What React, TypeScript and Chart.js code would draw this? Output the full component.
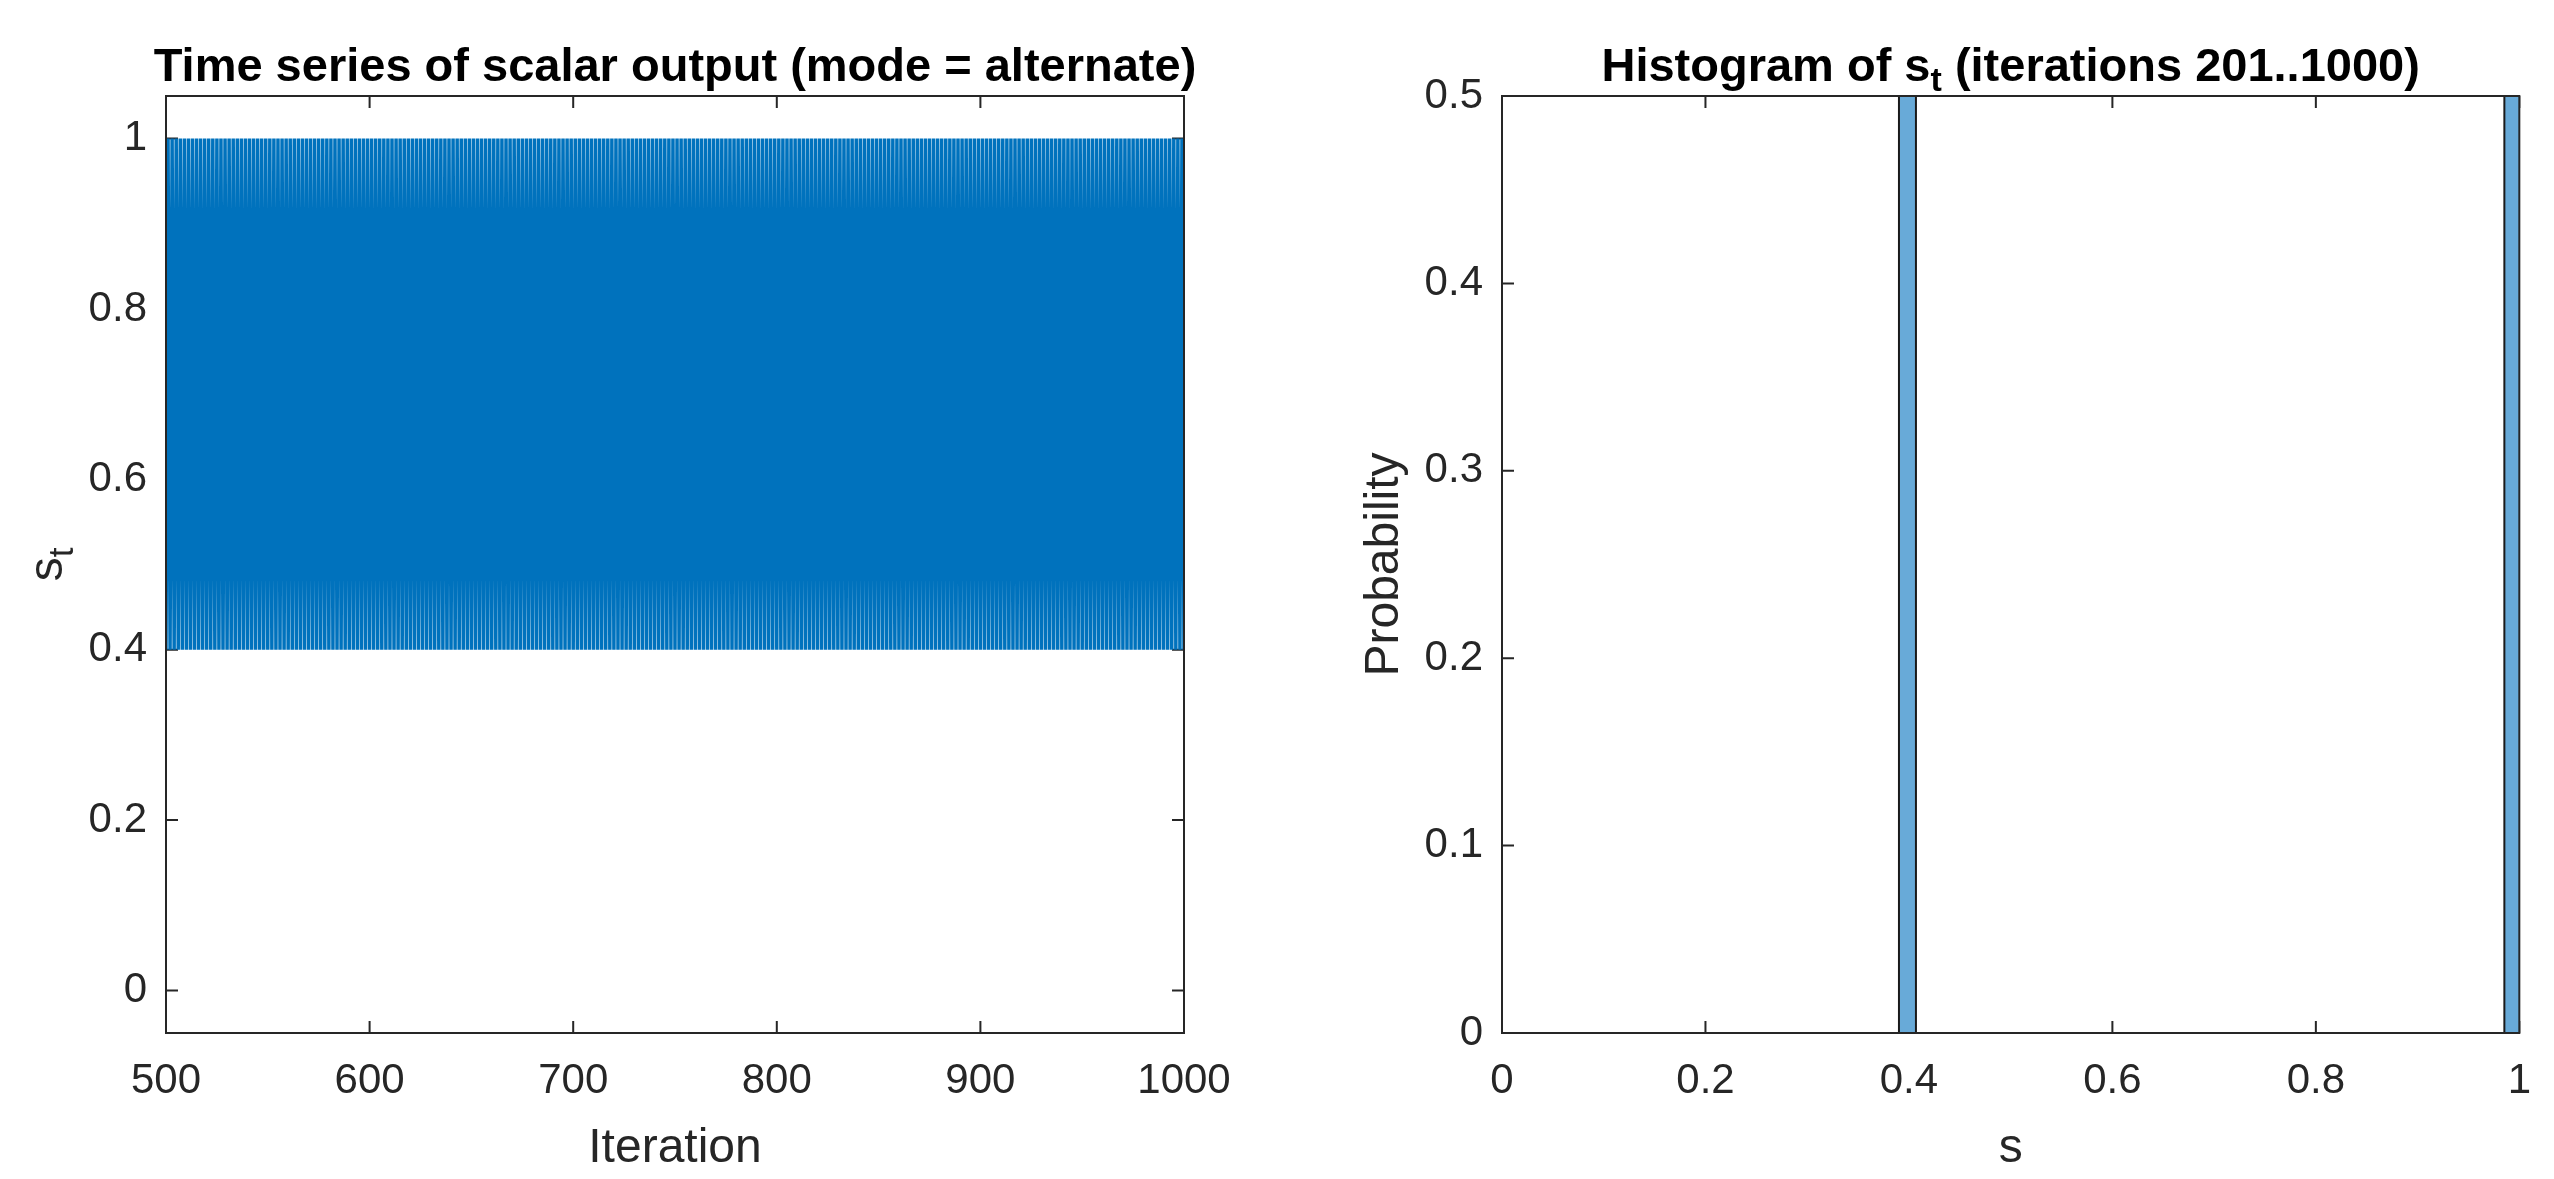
import React, { useEffect, useRef } from 'react';
import { Chart, registerables } from 'chart.js';

Chart.register(...registerables);

const PAGE_W = 2554;
const PAGE_H = 1179;
const FONT = "'Liberation Sans', Arial, Helvetica, sans-serif";

// ---------- Left panel: time series ----------
const iterationStart = 500;
const sValues = [
  0.4, 1, 0.4, 1, 0.4, 1, 0.4, 1, 0.4, 1, 0.4, 1, 0.4, 1, 0.4, 1, 0.4, 1, 0.4, 1,
  0.4, 1, 0.4, 1, 0.4, 1, 0.4, 1, 0.4, 1, 0.4, 1, 0.4, 1, 0.4, 1, 0.4, 1, 0.4, 1,
  0.4, 1, 0.4, 1, 0.4, 1, 0.4, 1, 0.4, 1, 0.4, 1, 0.4, 1, 0.4, 1, 0.4, 1, 0.4, 1,
  0.4, 1, 0.4, 1, 0.4, 1, 0.4, 1, 0.4, 1, 0.4, 1, 0.4, 1, 0.4, 1, 0.4, 1, 0.4, 1,
  0.4, 1, 0.4, 1, 0.4, 1, 0.4, 1, 0.4, 1, 0.4, 1, 0.4, 1, 0.4, 1, 0.4, 1, 0.4, 1,
  0.4, 1, 0.4, 1, 0.4, 1, 0.4, 1, 0.4, 1, 0.4, 1, 0.4, 1, 0.4, 1, 0.4, 1, 0.4, 1,
  0.4, 1, 0.4, 1, 0.4, 1, 0.4, 1, 0.4, 1, 0.4, 1, 0.4, 1, 0.4, 1, 0.4, 1, 0.4, 1,
  0.4, 1, 0.4, 1, 0.4, 1, 0.4, 1, 0.4, 1, 0.4, 1, 0.4, 1, 0.4, 1, 0.4, 1, 0.4, 1,
  0.4, 1, 0.4, 1, 0.4, 1, 0.4, 1, 0.4, 1, 0.4, 1, 0.4, 1, 0.4, 1, 0.4, 1, 0.4, 1,
  0.4, 1, 0.4, 1, 0.4, 1, 0.4, 1, 0.4, 1, 0.4, 1, 0.4, 1, 0.4, 1, 0.4, 1, 0.4, 1,
  0.4, 1, 0.4, 1, 0.4, 1, 0.4, 1, 0.4, 1, 0.4, 1, 0.4, 1, 0.4, 1, 0.4, 1, 0.4, 1,
  0.4, 1, 0.4, 1, 0.4, 1, 0.4, 1, 0.4, 1, 0.4, 1, 0.4, 1, 0.4, 1, 0.4, 1, 0.4, 1,
  0.4, 1, 0.4, 1, 0.4, 1, 0.4, 1, 0.4, 1, 0.4, 1, 0.4, 1, 0.4, 1, 0.4, 1, 0.4, 1,
  0.4, 1, 0.4, 1, 0.4, 1, 0.4, 1, 0.4, 1, 0.4, 1, 0.4, 1, 0.4, 1, 0.4, 1, 0.4, 1,
  0.4, 1, 0.4, 1, 0.4, 1, 0.4, 1, 0.4, 1, 0.4, 1, 0.4, 1, 0.4, 1, 0.4, 1, 0.4, 1,
  0.4, 1, 0.4, 1, 0.4, 1, 0.4, 1, 0.4, 1, 0.4, 1, 0.4, 1, 0.4, 1, 0.4, 1, 0.4, 1,
  0.4, 1, 0.4, 1, 0.4, 1, 0.4, 1, 0.4, 1, 0.4, 1, 0.4, 1, 0.4, 1, 0.4, 1, 0.4, 1,
  0.4, 1, 0.4, 1, 0.4, 1, 0.4, 1, 0.4, 1, 0.4, 1, 0.4, 1, 0.4, 1, 0.4, 1, 0.4, 1,
  0.4, 1, 0.4, 1, 0.4, 1, 0.4, 1, 0.4, 1, 0.4, 1, 0.4, 1, 0.4, 1, 0.4, 1, 0.4, 1,
  0.4, 1, 0.4, 1, 0.4, 1, 0.4, 1, 0.4, 1, 0.4, 1, 0.4, 1, 0.4, 1, 0.4, 1, 0.4, 1,
  0.4, 1, 0.4, 1, 0.4, 1, 0.4, 1, 0.4, 1, 0.4, 1, 0.4, 1, 0.4, 1, 0.4, 1, 0.4, 1,
  0.4, 1, 0.4, 1, 0.4, 1, 0.4, 1, 0.4, 1, 0.4, 1, 0.4, 1, 0.4, 1, 0.4, 1, 0.4, 1,
  0.4, 1, 0.4, 1, 0.4, 1, 0.4, 1, 0.4, 1, 0.4, 1, 0.4, 1, 0.4, 1, 0.4, 1, 0.4, 1,
  0.4, 1, 0.4, 1, 0.4, 1, 0.4, 1, 0.4, 1, 0.4, 1, 0.4, 1, 0.4, 1, 0.4, 1, 0.4, 1,
  0.4, 1, 0.4, 1, 0.4, 1, 0.4, 1, 0.4, 1, 0.4, 1, 0.4, 1, 0.4, 1, 0.4, 1, 0.4, 1,
  0.4,
];
const leftXRange = [500, 1000];
const leftYRange = [-0.05, 1.05];
const leftXTicks = [500, 600, 700, 800, 900, 1000];
const leftYTicks = [0, 0.2, 0.4, 0.6, 0.8, 1];
const leftTitle = [{ text: 'Time series of scalar output (mode = alternate)' }];
const leftXLabel = [{ text: 'Iteration' }];
const leftYLabel = [{ text: 's' }, { text: 't', sub: true }];

// ---------- Right panel: histogram ----------
const histBinLeft = [0.3902, 0.9853];
const histBinRight = [0.4069, 1.002];
const histProb = [0.5, 0.5];
const rightXRange = [0, 1];
const rightYRange = [0, 0.5];
const rightXTicks = [0, 0.2, 0.4, 0.6, 0.8, 1];
const rightYTicks = [0, 0.1, 0.2, 0.3, 0.4, 0.5];
const rightTitle = [
  { text: 'Histogram of s' },
  { text: 't', sub: true },
  { text: ' (iterations 201..1000)' },
];
const rightXLabel = [{ text: 's' }];
const rightYLabel = [{ text: 'Probability' }];

// ---------- styling ----------
const AXIS_COLOR = '#262626';
const LINE_BLUE = '#0072BD';
const HIST_FACE = 'rgb(104,170,216)';
const TICK_FONT = 42;
const LABEL_FONT = 48;
const TITLE_FONT = 47;
const TICK_LEN = 12;

type Seg = { text: string; sub?: boolean };

function drawRich(
  ctx: CanvasRenderingContext2D,
  segs: Seg[],
  x: number,
  y: number,
  size: number,
  weight: string,
  color: string,
  rotate: boolean
) {
  ctx.save();
  ctx.translate(x, y);
  if (rotate) ctx.rotate(-Math.PI / 2);
  ctx.fillStyle = color;
  ctx.textBaseline = 'alphabetic';
  ctx.textAlign = 'left';
  const fontFor = (s: Seg) => `${weight} ${s.sub ? Math.round(size * 0.72) : size}px ${FONT}`;
  const widths = segs.map((s) => {
    ctx.font = fontFor(s);
    return ctx.measureText(s.text).width;
  });
  const total = widths.reduce((a, b) => a + b, 0);
  let cx = -total / 2;
  segs.forEach((s, i) => {
    ctx.font = fontFor(s);
    ctx.fillText(s.text, cx, s.sub ? size * 0.22 : 0);
    cx += widths[i];
  });
  ctx.restore();
}

function makeMatlabPlugin(cfg: { title: Seg[]; xLabel: Seg[]; yLabel: Seg[] }) {
  return {
    id: 'matlabAxes',
    beforeDatasetsDraw(chart: any) {
      const { ctx, chartArea } = chart;
      const { left, right, top, bottom } = chartArea;
      const xs = chart.scales.x;
      const ys = chart.scales.y;
      ctx.save();
      ctx.strokeStyle = AXIS_COLOR;
      ctx.lineWidth = 2;
      ctx.beginPath();
      xs.ticks.forEach((t: any) => {
        const px = xs.getPixelForValue(t.value);
        ctx.moveTo(px, bottom);
        ctx.lineTo(px, bottom - TICK_LEN);
        ctx.moveTo(px, top);
        ctx.lineTo(px, top + TICK_LEN);
      });
      ys.ticks.forEach((t: any) => {
        const py = ys.getPixelForValue(t.value);
        ctx.moveTo(left, py);
        ctx.lineTo(left + TICK_LEN, py);
        ctx.moveTo(right, py);
        ctx.lineTo(right - TICK_LEN, py);
      });
      ctx.stroke();
      ctx.restore();
    },
    afterDatasetsDraw(chart: any) {
      const { ctx, chartArea } = chart;
      const { left, right, top, bottom } = chartArea;
      ctx.save();
      ctx.strokeStyle = AXIS_COLOR;
      ctx.lineWidth = 2;
      ctx.strokeRect(left, top, right - left, bottom - top);
      ctx.restore();
    },
    afterDraw(chart: any) {
      const { ctx, chartArea } = chart;
      const { left, right, top, bottom } = chartArea;
      const cx = (left + right) / 2;
      const cy = (top + bottom) / 2;
      drawRich(ctx, cfg.title, cx, top - 15, TITLE_FONT, 'bold', '#000000', false);
      drawRich(ctx, cfg.xLabel, cx, bottom + 129, LABEL_FONT, 'normal', AXIS_COLOR, false);
      drawRich(ctx, cfg.yLabel, left - 104, cy, LABEL_FONT, 'normal', AXIS_COLOR, true);
    },
  };
}

function axisOptions(
  range: number[],
  tickValues: number[],
  isX: boolean,
  size: number
) {
  return {
    type: 'linear',
    min: range[0],
    max: range[1],
    afterBuildTicks: (scale: any) => {
      scale.ticks = tickValues.map((v) => ({ value: v }));
    },
    afterFit: (scale: any) => {
      if (isX) scale.height = size;
      else scale.width = size;
    },
    grid: { display: false, drawTicks: false },
    border: { display: false },
    ticks: {
      color: AXIS_COLOR,
      font: { family: FONT, size: TICK_FONT },
      padding: isX ? 23 : 19,
      autoSkip: false,
      maxRotation: 0,
      minRotation: 0,
      callback: (v: any) => String(v),
    },
  };
}

export default function App() {
  const leftRef = useRef<HTMLCanvasElement | null>(null);
  const rightRef = useRef<HTMLCanvasElement | null>(null);

  useEffect(() => {
    const charts: Chart[] = [];
    const plotTop = 96;
    const plotBottom = 1033;
    const xAxisH = PAGE_H - plotBottom;

    if (leftRef.current) {
      const pts = sValues.map((v, i) => ({ x: iterationStart + i, y: v }));
      charts.push(
        new Chart(leftRef.current, {
          type: 'line',
          data: {
            datasets: [
              {
                data: pts,
                borderColor: LINE_BLUE,
                borderWidth: 3.5,
                pointRadius: 0,
                tension: 0,
                fill: false,
              },
            ],
          },
          options: {
            responsive: false,
            animation: false,
            events: [],
            layout: { padding: { top: plotTop, left: 0, right: PAGE_W - 1184, bottom: 0 } },
            plugins: { legend: { display: false }, tooltip: { enabled: false }, title: { display: false } },
            scales: {
              x: axisOptions(leftXRange, leftXTicks, true, xAxisH),
              y: axisOptions(leftYRange, leftYTicks, false, 166),
            },
          } as any,
          plugins: [makeMatlabPlugin({ title: leftTitle, xLabel: leftXLabel, yLabel: leftYLabel })],
        } as any)
      );
    }

    if (rightRef.current) {
      const datasets = histProb.map((p, i) => ({
        data: [
          { x: histBinLeft[i], y: 0 },
          { x: histBinLeft[i], y: p },
          { x: histBinRight[i], y: p },
          { x: histBinRight[i], y: 0 },
        ],
        borderColor: '#1a1a1a',
        backgroundColor: HIST_FACE,
        borderWidth: 2,
        pointRadius: 0,
        tension: 0,
        fill: 'origin',
        clip: 0,
      }));
      charts.push(
        new Chart(rightRef.current, {
          type: 'line',
          data: { datasets },
          options: {
            responsive: false,
            animation: false,
            events: [],
            layout: { padding: { top: plotTop, left: 1340, right: PAGE_W - 2522, bottom: 0 } },
            plugins: { legend: { display: false }, tooltip: { enabled: false }, title: { display: false } },
            scales: {
              x: axisOptions(rightXRange, rightXTicks, true, xAxisH),
              y: axisOptions(rightYRange, rightYTicks, false, 1502 - 1340),
            },
          } as any,
          plugins: [makeMatlabPlugin({ title: rightTitle, xLabel: rightXLabel, yLabel: rightYLabel })],
        } as any)
      );
    }

    return () => {
      charts.forEach((c) => c.destroy());
    };
  }, []);

  const canvasStyle: React.CSSProperties = {
    position: 'absolute',
    left: 0,
    top: 0,
    width: PAGE_W,
    height: PAGE_H,
  };

  return (
    <div
      style={{
        position: 'fixed',
        left: 0,
        top: 0,
        width: PAGE_W,
        height: PAGE_H,
        background: '#ffffff',
        overflow: 'hidden',
      }}
    >
      <canvas ref={leftRef} width={PAGE_W} height={PAGE_H} style={canvasStyle} />
      <canvas ref={rightRef} width={PAGE_W} height={PAGE_H} style={canvasStyle} />
    </div>
  );
}
